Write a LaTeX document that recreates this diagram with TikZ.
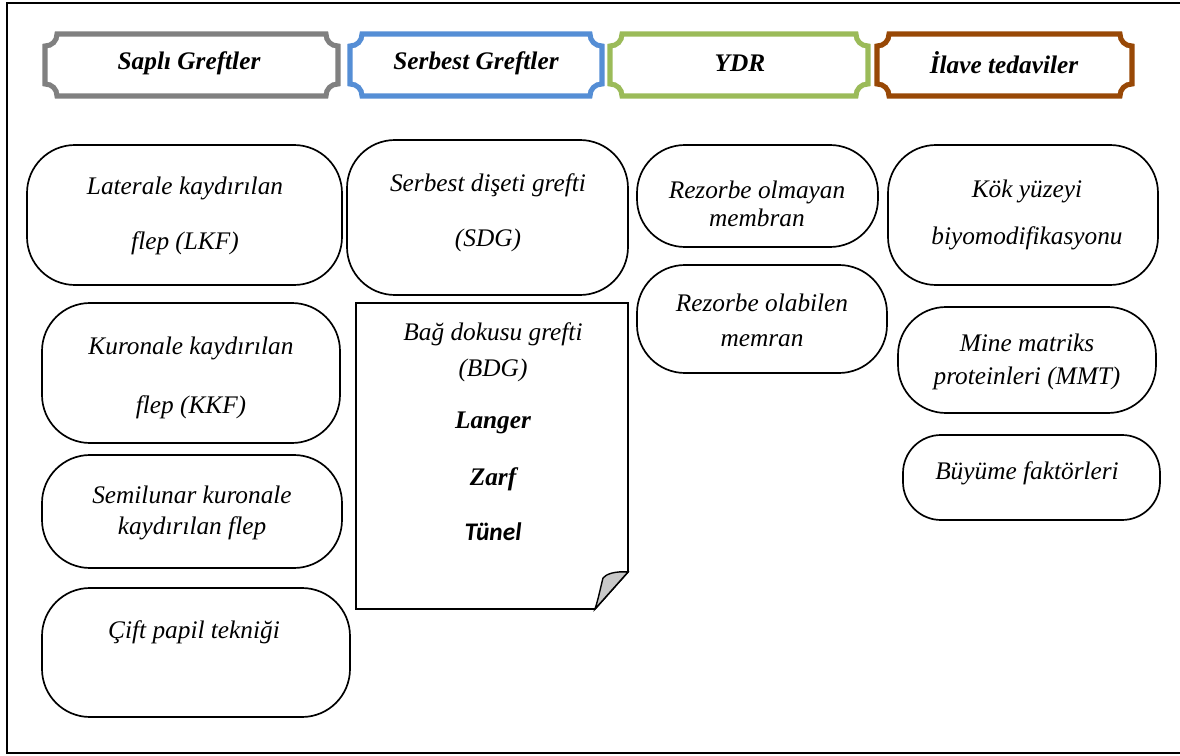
\documentclass[tikz,border=0pt]{standalone}
\usepackage{fontspec}
\setmainfont{Liberation Serif}
\newfontfamily\calibfont{Carlito}
\usetikzlibrary{fit}
\definecolor{plqgray}{RGB}{128,128,128}
\definecolor{plqblue}{RGB}{85,142,213}
\definecolor{plqgreen}{RGB}{155,187,89}
\definecolor{plqbrown}{RGB}{152,72,6}
\definecolor{foldgray}{RGB}{200,200,200}
\tikzset{
  pill/.style={draw, line width=1.2pt, rounded corners=1.2cm, inner sep=0pt},
  smallpill/.style={pill, rounded corners=0.95cm},
  txt/.style={align=center, inner sep=0pt, font=\fontsize{18}{21}\selectfont\itshape},
  headtxt/.style={inner sep=0pt, font=\fontsize{18}{21}\selectfont\bfseries\itshape},
  plqline/.style={line width=3.6pt},
  paper/.style={draw, line width=1.2pt}
}
% header frame with notched corners: x1 y1 x2 y2 colour
\newcommand{\plaque}[5]{%
  \draw[plqline, draw=#5] (#1+12,#2) -- (#3-12,#2)
    .. controls (#3-12,#2+7) and (#3-7,#2+12) .. (#3,#2+12) -- (#3,#4-12)
    .. controls (#3-7,#4-12) and (#3-12,#4-7) .. (#3-12,#4) -- (#1+12,#4)
    .. controls (#1+12,#4-7) and (#1+7,#4-12) .. (#1,#4-12) -- (#1,#2+12)
    .. controls (#1+7,#2+12) and (#1+12,#2+7) .. (#1+12,#2) -- cycle;}
\begin{document}
\begin{tikzpicture}[x=0.025cm, y=-0.025cm]
\useasboundingbox (0,0) rectangle (1180,756);
\draw[line width=1pt] (7,3) rectangle (1200,753);

% headers
\plaque{45}{34}{338}{96}{plqgray}
\plaque{350}{34}{602}{96}{plqblue}
\plaque{610}{34}{868}{96}{plqgreen}
\plaque{877}{34}{1132}{96}{plqbrown}
\draw (189,63) node[headtxt] (sapli) {Saplı Greftler};
\draw (476,63) node[headtxt] (serbest) {Serbest Greftler};
\draw (740,63) node[headtxt] (ydr) {YDR};
\draw (1004,63) node[headtxt] (ilave) {İlave tedaviler};

% column 1
\node[pill, fit={(27,145) (342,285)}] (lkf) {};
\node[pill, fit={(42,303) (340,443)}] (kkf) {};
\node[pill, fit={(42,455) (342,568)}] (skf) {};
\node[pill, fit={(42,588) (350,717)}] (cift) {};
\draw (185,215.5) node[txt] (lkf-t) {Laterale kaydırılan\\[18pt]flep (LKF)};
\draw (191,377.5) node[txt] (kkf-t) {Kuronale kaydırılan\\[21pt]flep (KKF)};
\draw (192,512.5) node[txt] (skf-t) {Semilunar kuronale\\[1pt]kaydırılan flep};
\draw (194,632) node[txt] (cift-t) {Çift papil tekniği};

% column 2
\node[pill, fit={(347,140) (628,295)}] (sdg) {};
\draw (488,212.5) node[txt] (sdg-t) {Serbest dişeti grefti\\[18pt](SDG)};
\draw[paper] (356,303) -- (628,303) -- (628,572) -- (595,609) -- (356,609) -- cycle;
\draw[fill=foldgray, line width=1pt] (628,572) .. controls (615,571) and (606,574) .. (603,578)
  .. controls (600,590) and (598,600) .. (595,609) -- cycle;
\draw (493,432) node[txt] (bdg-t) {Bağ dokusu grefti\\[4.6pt](BDG)\\[16pt]\textbf{Langer}\\[19.5pt]\textbf{Zarf}\\[18pt]{\calibfont\bfseries Tünel}};

% column 3
\node[pill, fit={(637,145) (878,247)}] (rom) {};
\node[pill, fit={(637,265) (887,373)}] (rob) {};
\draw (757,204) node[txt] (rom-t) {Rezorbe olmayan\\[-1pt]membran};
\draw (762,320.5) node[txt] (rob-t) {Rezorbe olabilen\\[4pt]memran};

% column 4
\node[pill, fit={(888,145) (1158,285)}] (kok) {};
\node[pill, fit={(898,307) (1156,413)}] (mmt) {};
\node[smallpill, fit={(903,435) (1160,520)}] (buy) {};
\draw (1027,215) node[txt] (kok-t) {Kök yüzeyi\\[12pt]biyomodifikasyonu};
\draw (1027,361.5) node[txt] (mmt-t) {Mine matriks\\[2.5pt]proteinleri (MMT)};
\draw (1027,473) node[txt] (buy-t) {Büyüme faktörleri};
\end{tikzpicture}
\end{document}
